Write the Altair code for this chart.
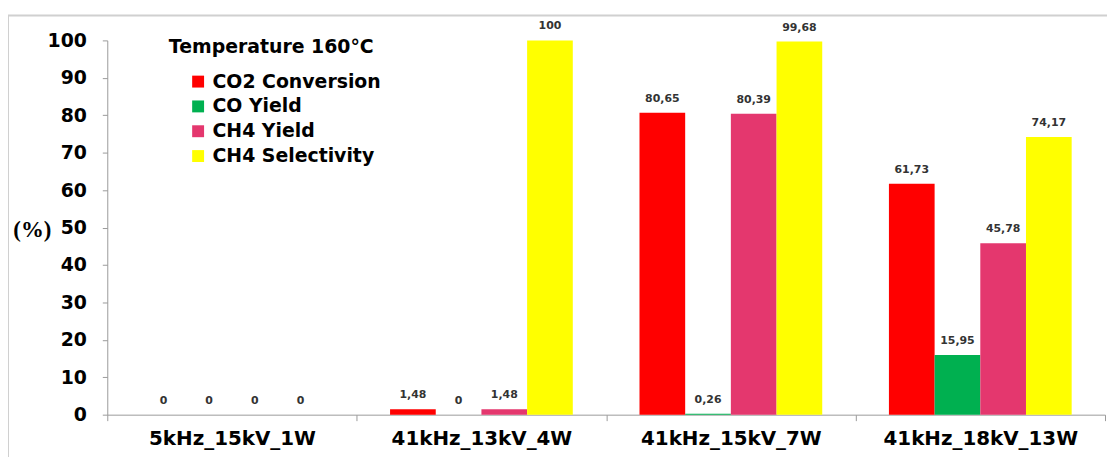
import altair as alt
import pandas as pd

categories = ["5kHz_15kV_1W", "41kHz_13kV_4W", "41kHz_15kV_7W", "41kHz_18kV_13W"]
series = ["CO2 Conversion", "CO Yield", "CH4 Yield", "CH4 Selectivity"]
co2_conversion = [0, 1.48, 80.65, 61.73]
co_yield = [0, 0, 0.26, 15.95]
ch4_yield = [0, 1.48, 80.39, 45.78]
ch4_selectivity = [0, 100, 99.68, 74.17]
colors = ["#FF0000", "#00B050", "#E4376E", "#FFFF00"]
y_ticks = list(range(0, 101, 10))
legend_title = "Temperature 160°C"

rows = []
for s, vals in zip(series, [co2_conversion, co_yield, ch4_yield, ch4_selectivity]):
    for c, v in zip(categories, vals):
        rows.append({"category": c, "series": s, "value": v,
                     "label": f"{v:g}".replace(".", ",")})
df = pd.DataFrame(rows)
one = pd.DataFrame({"t": [legend_title]})

FONT = "DejaVu Sans"
GRAY = "#9a9a9a"

x_enc = alt.X("category:N", sort=categories,
              scale=alt.Scale(paddingInner=0, paddingOuter=0),
              axis=alt.Axis(title=None, labelAngle=0, labelFont=FONT, labelFontWeight="bold",
                            labelFontSize=20, labelColor="black", domainColor=GRAY,
                            tickColor=GRAY, tickSize=6, tickBand="extent", labelPadding=8,
                            labelLimit=400))
xoff = alt.XOffset("series:N", sort=series,
                   scale=alt.Scale(paddingOuter=0.73, paddingInner=0))
y_enc = alt.Y("value:Q", scale=alt.Scale(domain=[0, 100], nice=False),
              axis=alt.Axis(values=y_ticks, tickCount=11, labelOverlap=False, grid=False,
                            title="(%)", titleAngle=0,
                            titleX=-76, titleY=191, titleAlign="center",
                            titleBaseline="middle",
                            titleFont="Liberation Serif",
                            titleFontSize=23, titleFontWeight="bold", titleColor="black",
                            labelFont=FONT, labelFontSize=19, labelFontWeight="bold",
                            labelColor="black", tickSize=5, labelPadding=16,
                            domainColor=GRAY, tickColor=GRAY))
color_enc = alt.Color("series:N", sort=series,
                      scale=alt.Scale(domain=series, range=colors),
                      legend=alt.Legend(title=None, orient="none", legendX=82, legendY=32,
                                        symbolType="square", symbolSize=144,
                                        symbolStrokeWidth=0, labelFont=FONT,
                                        labelFontSize=19, labelFontWeight="bold",
                                        labelColor="black", rowPadding=5,
                                        labelOffset=5, padding=0, labelLimit=400))

frame = alt.Chart(one).mark_rect(fillOpacity=0, stroke="#d0d0d0", strokeWidth=2).encode(
    x=alt.value(-100), x2=alt.value(1010), y=alt.value(-25), y2=alt.value(460))

bars = alt.Chart(df).mark_bar(stroke=None).encode(
    x=x_enc, xOffset=xoff, y=y_enc, color=color_enc)

labels = alt.Chart(df).mark_text(dy=-14, baseline="middle", font=FONT, fontSize=11,
                                 fontWeight="bold", color="#333333").encode(
    x=x_enc, xOffset=xoff, y=y_enc, text="label:N")

title_text = alt.Chart(one).mark_text(align="left", baseline="middle", font=FONT,
                                      fontSize=19, fontWeight="bold", color="black").encode(
    x=alt.value(62), y=alt.value(7), text="t:N")

chart = alt.layer(frame, bars, labels, title_text).properties(
    width=1005, height=377,
    autosize=alt.AutoSizeParams(type="none"),
    padding={"left": 100, "top": 31, "right": 2, "bottom": 41},
).configure_view(stroke=None)

chart.save("out.html", embed_options={"renderer": "svg", "actions": False})
